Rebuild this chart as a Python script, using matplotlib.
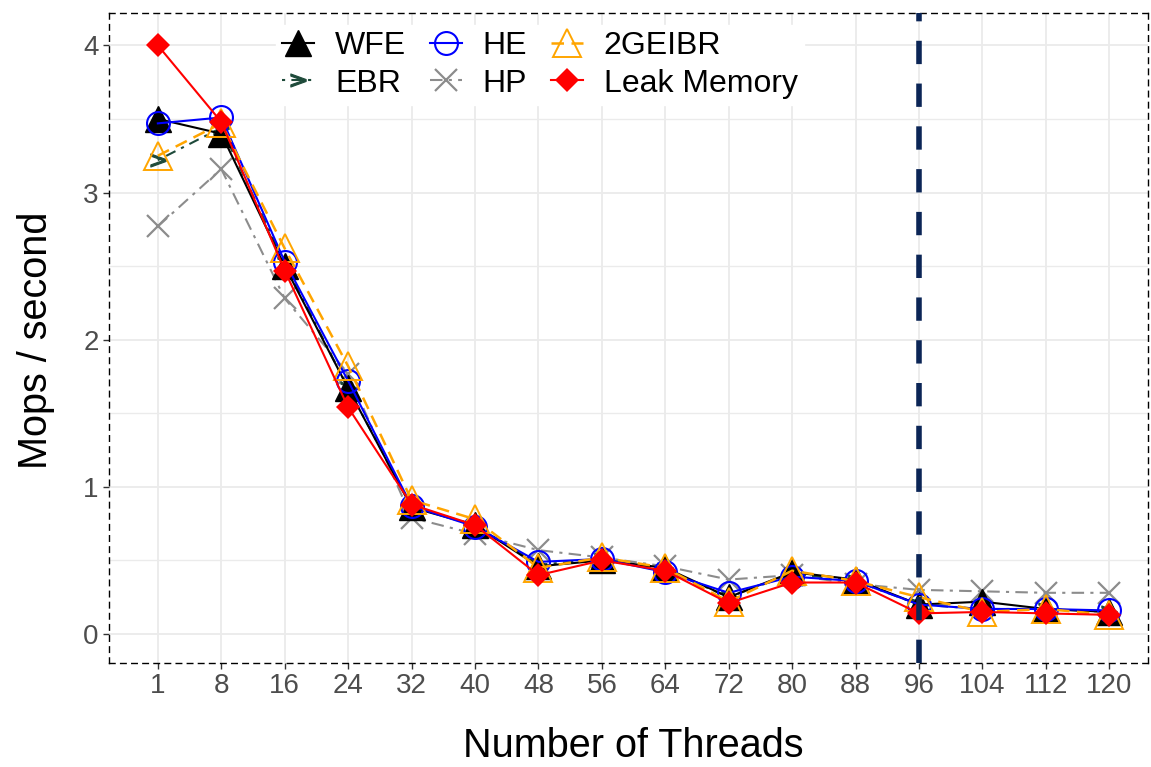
import matplotlib
matplotlib.use("Agg")
import matplotlib.pyplot as plt
from matplotlib.ticker import MultipleLocator
import numpy as np

threads = ["1", "8", "16", "24", "32", "40", "48", "56", "64", "72", "80", "88", "96", "104", "112", "120"]

wfe = [3.50, 3.40, 2.50, 1.67, 0.86, 0.74, 0.46, 0.50, 0.45, 0.25, 0.42, 0.37, 0.20, 0.22, 0.17, 0.15]
he = [3.47, 3.51, 2.53, 1.72, 0.87, 0.73, 0.49, 0.51, 0.42, 0.28, 0.39, 0.36, 0.20, 0.17, 0.17, 0.16]
geibr = [3.25, 3.47, 2.62, 1.82, 0.91, 0.78, 0.45, 0.52, 0.45, 0.22, 0.43, 0.36, 0.25, 0.15, 0.17, 0.13]
ebr = [3.22, 3.44, 2.52, 1.67, 0.87, 0.74, 0.47, 0.51, 0.44, 0.25, 0.41, 0.36, 0.20, 0.17, 0.17, 0.15]
hp = [2.77, 3.16, 2.28, 1.77, 0.79, 0.68, 0.57, 0.52, 0.46, 0.37, 0.40, 0.34, 0.30, 0.29, 0.28, 0.28]
leak = [4.00, 3.48, 2.47, 1.54, 0.88, 0.74, 0.40, 0.50, 0.43, 0.21, 0.35, 0.35, 0.14, 0.15, 0.14, 0.13]

marker_thread = "96"

plt.rcParams['font.family'] = ['Liberation Sans', 'DejaVu Sans']

fig = plt.figure(figsize=(11.51, 7.67), dpi=100)
ax = fig.add_axes([109/1151, 1-663/767, 1039/1151, 650/767])

x = np.arange(len(threads))

ax.plot(x, hp, color='#8c8c8c', lw=1.5, ls=(0, (6, 3, 1.5, 3)), marker='x', ms=16, mew=1.6, label='HP', zorder=3)
ax.plot(x, ebr, color='#1e4a3a', lw=1.5, ls=(0, (1.5, 3, 5, 3)), marker=r'$>$', ms=11, mew=0.8, label='EBR', zorder=4)
ax.plot(x, wfe, color='black', lw=1.5, ls='-', marker='^', ms=19, label='WFE', zorder=5)
ax.plot(x, he, color='#0000ff', lw=1.5, ls='-', marker='o', ms=16.5, mfc='none', mew=1.5, label='HE', zorder=6)
ax.plot(x, geibr, color='#ffa500', lw=1.8, ls=(0, (5, 3)), marker='^', ms=20, mfc='none', mew=1.4, label='2GEIBR', zorder=7)
ax.plot(x, leak, color='#ff0000', lw=1.5, ls='-', marker='D', ms=12, mew=0, label='Leak Memory', zorder=8)

ax.axvline(threads.index(marker_thread), color='#0b2556', lw=4, ls=(0, (4.2, 3.5)), zorder=9)

ax.set_xlim(-0.77, 15.61)
ax.set_ylim(-0.197, 4.22)
ax.set_xticks(x)
ax.set_xticklabels(threads)
ax.yaxis.set_major_locator(MultipleLocator(1))
ax.yaxis.set_minor_locator(MultipleLocator(0.5))

ax.grid(which='major', color='#ebebeb', lw=1.3, zorder=0)
ax.grid(which='minor', axis='y', color='#ebebeb', lw=1.0, zorder=0)
ax.set_axisbelow(True)

ax.tick_params(axis='both', which='major', labelsize=20, labelcolor='#4d4d4d', color='#333333', length=4, width=1)
ax.tick_params(axis='y', which='minor', length=0)

for sp in ax.spines.values():
    sp.set_linestyle((0, (4, 4)))
    sp.set_linewidth(1.0)
    sp.set_color('black')

ax.set_xlabel('Number of Threads', fontsize=28.5)
ax.set_ylabel('Mops / second', fontsize=28.5)
ax.xaxis.set_label_coords((633-109)/1039, (663-746)/650)
ax.xaxis.label.set_va('center')
ax.yaxis.set_label_coords((36-109)/1039, (663-340)/650)
ax.yaxis.label.set_va('center')

handles, labels = ax.get_legend_handles_labels()
order = ['WFE', 'EBR', 'HE', 'HP', '2GEIBR', 'Leak Memory']
hmap = dict(zip(labels, handles))
leg = ax.legend([hmap[k] for k in order], order, ncol=3, loc='center',
                bbox_to_anchor=((540-109)/1039, (663-65)/650), fontsize=23,
                frameon=True, framealpha=1, edgecolor='white', facecolor='white',
                handlelength=1.0, handletextpad=0.65, columnspacing=0.75,
                labelspacing=0.22, borderpad=0.2)
leg.set_zorder(10)

fig.savefig('out.png', dpi=100, facecolor='white')
